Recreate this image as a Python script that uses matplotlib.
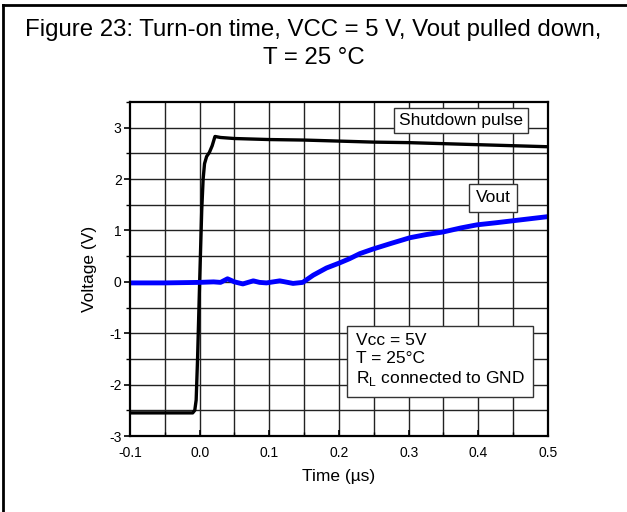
import matplotlib
matplotlib.use("Agg")
from matplotlib import pyplot as plt
from matplotlib.ticker import MultipleLocator, FormatStrFormatter
from matplotlib.lines import Line2D

plt.rcParams["font.family"] = ["Liberation Sans", "DejaVu Sans"]

# 关断脉冲 (黑线)
t_pulse = [-0.1, -0.05, -0.01, -0.007, -0.005, -0.003, 0.0, 0.003, 0.005,
           0.007, 0.010, 0.014, 0.018, 0.022, 0.03, 0.05, 0.1, 0.15, 0.2,
           0.25, 0.3, 0.35, 0.4, 0.45, 0.5]
v_pulse = [-2.55, -2.55, -2.55, -2.5, -2.3, -1.5, 0.0, 1.4, 2.0,
           2.3, 2.44, 2.52, 2.65, 2.83, 2.81, 2.79, 2.77, 2.76, 2.74,
           2.72, 2.71, 2.69, 2.67, 2.65, 2.63]

# 输出电压 Vout (蓝线)
t_vout = [-0.1, -0.05, 0.0, 0.02, 0.03, 0.04, 0.05, 0.062, 0.077, 0.086,
          0.096, 0.115, 0.134, 0.148, 0.163, 0.182, 0.201, 0.215, 0.23,
          0.249, 0.275, 0.302, 0.325, 0.349, 0.375, 0.398, 0.425, 0.45,
          0.475, 0.5]
v_vout = [-0.02, -0.02, -0.01, 0.0, -0.01, 0.06, 0.0, -0.04, 0.02, -0.01,
          -0.02, 0.02, -0.03, -0.01, 0.13, 0.27, 0.37, 0.45, 0.55,
          0.64, 0.75, 0.86, 0.92, 0.97, 1.05, 1.11, 1.15, 1.19,
          1.23, 1.27]

fig = plt.figure(figsize=(6.27, 5.12), dpi=100)
ax = fig.add_axes([0.2073, 0.1484, 0.6667, 0.6523])

# 网格
for x in [i * 0.05 - 0.1 for i in range(1, 12)]:
    ax.axvline(x, color="#222222", lw=1.0, zorder=1)
for y in [i * 0.5 - 3 for i in range(1, 13)]:
    ax.axhline(y, color="#222222", lw=1.0, zorder=1)

ax.plot(t_pulse, v_pulse, color="black", lw=2.4, zorder=3)
ax.plot(t_vout, v_vout, color="#0000ff", lw=3.5, zorder=3)

ax.set_xlim(-0.1, 0.5)
ax.set_ylim(-3, 3.5)
ax.xaxis.set_major_locator(MultipleLocator(0.1))
ax.xaxis.set_minor_locator(MultipleLocator(0.05))
ax.yaxis.set_major_locator(MultipleLocator(1))
ax.yaxis.set_minor_locator(MultipleLocator(0.5))
ax.xaxis.set_major_formatter(FormatStrFormatter("%.1f"))
ax.yaxis.set_major_formatter(FormatStrFormatter("%d"))
ax.tick_params(axis="x", which="major", direction="in", length=4, width=1.2, labelsize=10, pad=7)
ax.tick_params(axis="x", which="minor", direction="in", length=3, width=1.0)
ax.tick_params(axis="y", which="major", direction="out", length=4, width=1.2, labelsize=10, pad=2)
ax.tick_params(axis="y", which="minor", direction="out", length=3, width=1.0)
for s in ax.spines.values():
    s.set_linewidth(1.6)
    s.set_zorder(4)

ax.set_xlabel("Time (µs)", fontsize=12.5, labelpad=7)
ax.set_ylabel("Voltage (V)", fontsize=12.5, labelpad=9)

ax.text(0.375, 3.14, "Shutdown pulse", fontsize=12.5, ha="center", va="center",
        bbox=dict(boxstyle="square,pad=0.3", facecolor="white", edgecolor="#333333", lw=1.0),
        zorder=5)
ax.text(0.421, 1.64, "Vout", fontsize=12.5, ha="center", va="center",
        bbox=dict(boxstyle="square,pad=0.38", facecolor="white", edgecolor="#333333", lw=1.0),
        zorder=5)
ax.text(0.224, -1.53, "Vcc = 5V\nT = 25°C\nR$_\\mathregular{L}$ connected to GND",
        fontsize=12.5, ha="left", va="center", linespacing=1.22,
        bbox=dict(boxstyle="square,pad=0.5", facecolor="white", edgecolor="#333333", lw=1.0),
        zorder=5)

fig.text(0.5, 0.962, "Figure 23: Turn-on time, VCC = 5 V, Vout pulled down,\nT = 25 °C",
         fontsize=17.3, ha="center", va="top", linespacing=1.3)

# 外框 (只有上边和左边)
fig.add_artist(Line2D([0.005, 1.0], [0.991, 0.991], color="black", lw=2.0, transform=fig.transFigure))
fig.add_artist(Line2D([0.0055, 0.0055], [0.0, 0.991], color="black", lw=2.0, transform=fig.transFigure))

fig.savefig("out.png", dpi=100)
